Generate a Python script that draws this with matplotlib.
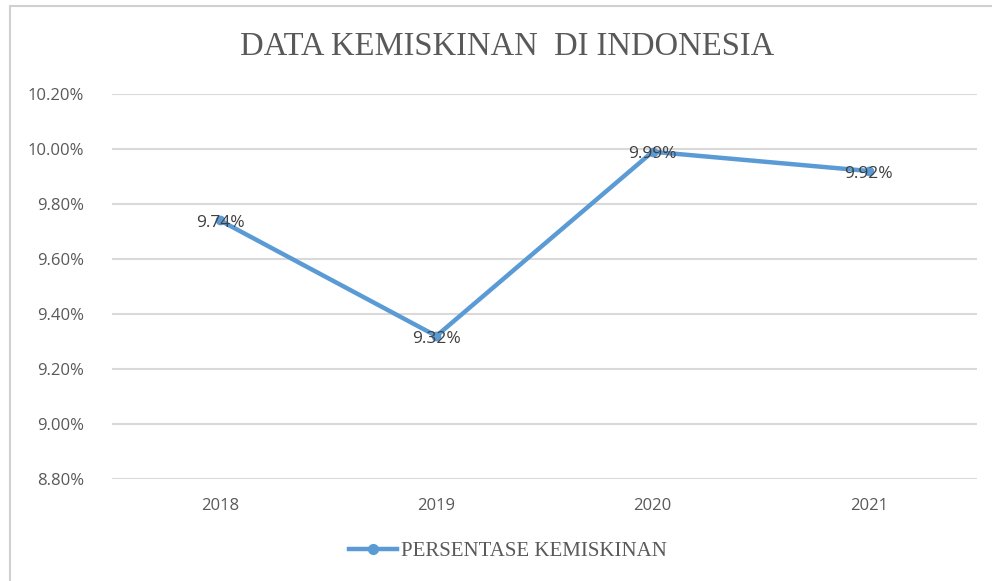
import matplotlib
matplotlib.use("Agg")
import matplotlib.pyplot as plt
from matplotlib.lines import Line2D
from matplotlib.patches import Rectangle

years = ["2018", "2019", "2020", "2021"]
values = [9.74, 9.32, 9.99, 9.92]
yticks = [8.80, 9.00, 9.20, 9.40, 9.60, 9.80, 10.00, 10.20]
title = "DATA KEMISKINAN  DI INDONESIA"
series_name = "PERSENTASE KEMISKINAN"

line_color = "#5B9BD5"
text_color = "#595959"

fig = plt.figure(figsize=(9.92, 5.81), dpi=100)
fig.patch.set_facecolor("white")

# outer chart border
fig.patches.append(Rectangle((10/992, -0.1), 1.2, 1 - 6/581 + 0.1, transform=fig.transFigure,
                             fill=False, edgecolor="#D0D0D0", linewidth=1.5))

ax = fig.add_axes([112/992, 1 - 479/581, (977 - 112)/992, (479 - 94)/581])
x = list(range(len(years)))
ax.plot(x, values, color=line_color, linewidth=3.2, marker="o", markersize=6,
        solid_capstyle="round", zorder=3)
for xi, v in zip(x, values):
    ax.text(xi, v - 0.01, f"{v:.2f}%", ha="center", va="center", fontsize=12.5,
            family="Open Sans", color="#404040", zorder=4)

ax.set_xlim(-0.5, len(years) - 0.5)
ax.set_ylim(yticks[0], yticks[-1])
ax.set_yticks(yticks)
ax.set_yticklabels([f"{t:.2f}%" for t in yticks])
ax.set_xticks(x)
ax.set_xticklabels(years)
ax.tick_params(axis="both", length=0, labelsize=12, labelcolor=text_color)
ax.tick_params(axis="y", pad=20)
ax.tick_params(axis="x", pad=14)
for lab in ax.get_xticklabels() + ax.get_yticklabels():
    lab.set_family("Open Sans")
ax.grid(axis="y", color="#D9D9D9", linewidth=1.5)
ax.set_axisbelow(True)
for s in ax.spines.values():
    s.set_visible(False)

fig.text(507/992, 1 - 47/581, title, ha="center", va="center", fontsize=23.5,
         family="Liberation Serif", color=text_color)

handle = Line2D([], [], color=line_color, linewidth=3.2, marker="o", markersize=7)
fig.legend([handle], [series_name], loc="center", bbox_to_anchor=(508/992, 1 - 551/581),
           frameon=False, prop={"family": "Liberation Serif", "size": 15},
           labelcolor=text_color, handlelength=2.3, handletextpad=0.2)

fig.savefig("out.png", dpi=100)
